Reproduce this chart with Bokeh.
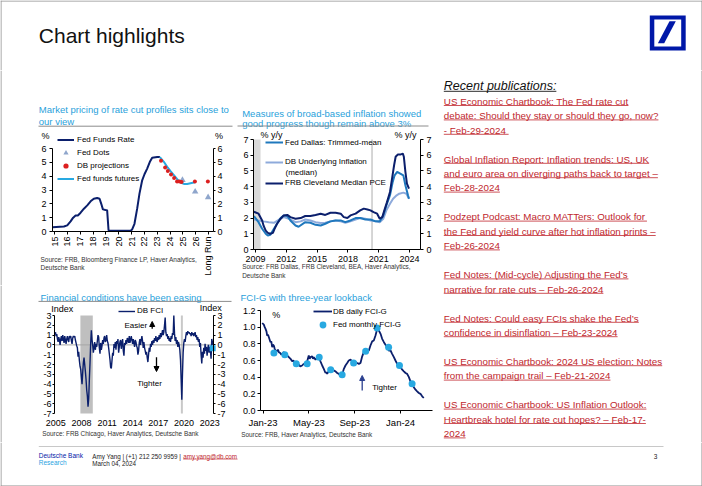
import math
import numpy as np
from bokeh.plotting import figure
from bokeh.models import (Range1d, LinearAxis, FixedTicker, Legend, LegendItem, BoxAnnotation, Arrow,
                          NormalHead, PrintfTickFormatter, NumeralTickFormatter)
from bokeh.layouts import row, column
from bokeh.core.properties import value
from bokeh.embed import file_html
from bokeh.resources import INLINE

# ---------------- DATA ----------------
# Chart 1: Fed funds (x = year label position, "15" = 2015 ... 27 = Long Run)
c1_ticks = [15, 16, 17, 18, 19, 20, 21, 22, 23, 24, 25, 26, 27]
c1_tick_labels = ["15", "16", "17", "18", "19", "20", "21", "22", "23", "24", "25", "26", "Long Run"]
ffr_x = [14.84, 15.73, 15.99, 16.25, 16.45, 16.64, 16.82, 17.03, 17.29, 17.55, 17.81, 18.06, 18.32, 18.51,
         18.64, 18.77, 18.97, 19.1, 19.21, 19.62, 20.92, 21.05, 21.23, 21.44, 21.62, 21.83, 22.01, 22.22,
         22.43, 22.61, 23.0, 23.21]
ffr_y = [0.31, 0.36, 0.44, 0.73, 1.0, 1.16, 1.16, 1.36, 1.65, 1.89, 2.18, 2.37, 2.42, 2.37, 2.0, 1.6, 1.55,
         1.53, 0.07, 0.05, 0.05, 0.15, 0.56, 1.65, 2.74, 3.7, 4.14, 4.55, 5.04, 5.33, 5.38, 5.38]
fut_x = [23.21, 23.52, 23.78, 24.04, 24.3, 24.56, 24.82, 25.08, 25.34, 25.6, 25.86, 25.99]
fut_y = [5.38, 5.04, 4.67, 4.36, 4.07, 3.78, 3.54, 3.44, 3.44, 3.49, 3.54, 3.58]
dbp_x = [23.3, 23.62, 23.83, 24.08, 24.32, 24.55, 24.74, 24.9, 25.94, 26.95]
dbp_y = [5.12, 4.62, 4.37, 4.12, 3.87, 3.62, 3.62, 3.58, 3.62, 3.62]
dots_x = [24.97, 25.96, 26.97]
dots_y = [3.72, 2.88, 2.47]

# Chart 2: broad-based inflation, % y/y
c2_ticks = [2009, 2012, 2015, 2018, 2021, 2024]
clev_x = [2008.85, 2009.3, 2009.65, 2009.8, 2010.0, 2010.2, 2010.45, 2010.7, 2010.85, 2011.1, 2011.45,
          2011.75, 2012.1, 2012.4, 2012.9, 2013.4, 2013.85, 2014.35, 2014.85, 2015.35, 2015.8, 2016.3,
          2016.8, 2017.3, 2017.6, 2017.95, 2018.25, 2018.75, 2019.2, 2019.55, 2019.9, 2020.2, 2020.5,
          2020.85, 2021.1, 2021.35, 2021.55, 2021.8, 2022.1, 2022.3, 2022.5, 2022.65, 2022.85, 2023.1,
          2023.35, 2023.45, 2023.6, 2023.75, 2023.95]
clev_y = [2.4, 2.28, 1.85, 1.5, 1.2, 1.06, 1.0, 1.06, 1.3, 1.64, 1.96, 2.17, 2.2, 2.06, 1.96, 2.0, 2.13,
          2.13, 2.2, 2.28, 2.2, 2.34, 2.34, 2.28, 2.06, 2.0, 2.17, 2.28, 2.49, 2.6, 2.55, 2.49, 2.38, 2.28,
          1.96, 2.06, 2.49, 3.0, 3.66, 4.51, 5.36, 5.9, 6.04, 6.04, 6.1, 5.9, 4.94, 4.19, 3.87]
dal_x = [2008.85, 2009.3, 2009.65, 2010.0, 2010.2, 2010.45, 2010.8, 2011.1, 2011.45, 2011.75, 2012.1,
         2012.4, 2012.9, 2013.2, 2013.85, 2014.35, 2014.85, 2015.35, 2015.8, 2016.3, 2016.8, 2017.3,
         2017.75, 2018.25, 2018.75, 2019.2, 2019.7, 2020.2, 2020.7, 2021.1, 2021.45, 2021.75, 2022.1,
         2022.35, 2022.55, 2022.8, 2023.1, 2023.4, 2023.6, 2023.85, 2023.95]
dal_y = [2.13, 1.74, 1.32, 1.0, 0.89, 0.94, 1.32, 1.64, 2.0, 2.17, 2.13, 1.85, 1.53, 1.45, 1.74, 1.7, 1.57,
         1.53, 1.64, 1.79, 1.85, 1.85, 1.74, 1.85, 2.0, 2.0, 1.91, 1.91, 1.79, 1.79, 2.17, 2.81, 3.45, 4.26,
         4.72, 4.94, 4.83, 4.72, 4.09, 3.45, 3.23]
dbu_x = [2008.85, 2009.3, 2009.8, 2010.3, 2010.8, 2011.3, 2011.75, 2012.25, 2012.9, 2013.4, 2013.85,
         2014.35, 2014.85, 2015.35, 2015.8, 2016.3, 2016.8, 2017.3, 2017.75, 2018.25, 2018.75, 2019.2,
         2019.7, 2020.2, 2020.7, 2021.1, 2021.45, 2021.75, 2022.1, 2022.4, 2022.75, 2023.0, 2023.4,
         2023.7, 2023.95]
dbu_y = [1.91, 1.85, 1.79, 1.74, 1.7, 1.91, 2.06, 1.96, 1.74, 1.79, 1.91, 1.85, 1.74, 1.68, 1.7, 1.79,
         1.85, 1.79, 1.7, 1.79, 1.91, 2.0, 1.96, 1.85, 1.79, 1.74, 1.96, 2.49, 2.91, 3.23, 3.45, 3.55,
         3.62, 3.55, 3.23]
c2_rec_start, c2_rec_end = [2008.81], [2009.5]
c2_covid = [2020.35]

# Chart 3: DB FCI (index), evenly spaced readings from 2005 to the end of the axis
c3_ticks = [2005, 2008, 2011, 2014, 2017, 2020, 2023]
fci = [1.3, 0.9, 1.1, 0.6, 0.3, 0.8, 0.5, 0.0, 0.6, 0.9, 0.4, 1.0, 0.6, 0.2, 0.9, 0.5, 0.1, 0.6, 0.9, 0.5,
       0.3, 0.9, 0.7, 0.9, 0.4, 0.1, 0.7, 0.9, 0.8, 0.9, 0.5, 0.2, -0.1,
       -0.3, -1.2, -0.7, -1.6, -2.2, -2.5, -3.3, -4.0, -2.8, -1.8, -1.3, -2.0, -2.7, -3.5, -4.6, -5.2,
       -6.3, -5.5, -3.5, -1.8, 0.2, 1.5, 0.5, 0.0,
       -0.8, -0.3, 0.3, -0.5, 0.1, -0.2, 0.4, 1.0, 0.8, -0.3, -0.9, 0.2, -0.5, -0.1, 0.5, 0.1, 0.7, 0.9,
       0.3, 0.5, 1.0, 0.4, 0.2, -0.3, -0.9, -1.5, -2.3, -2.4, -1.6, -0.8, -1.1, 0.1, -0.3, 0.3, -0.5,
       0.4, 0.1, 0.6, -0.8, -0.2, 0.3, 0.5, -0.4, 0.2, 0.6, -0.6, -1.1, 0.2, 0.0, 0.5, 0.1, 0.7, 0.6,
       0.2, 0.9, 0.2, 0.5, 0.9, 0.5, 0.1, 0.6, 0.2, -0.2, 0.5, 0.3, -0.1, -0.3, -1.0, -0.6, 0.2, 0.6,
       0.0, 0.5, 0.9, 0.4, -0.3,
       0.3, -0.3, -0.6, -1.0, -0.7, -1.3, -1.75, -1.0, -0.3, -0.7, 0.1, -0.2, 0.4, 0.0, 0.5, 0.2, 0.7,
       0.4, 0.9, 0.5, 0.3, 0.8, 0.5, 1.0, 0.6, 1.2, 0.8, 1.1, 1.5, 1.0, 1.3, 2.0, 2.8, 1.3, 0.9, 1.1,
       0.6, 0.9, 0.4, 0.7, 0.3, 0.9, 0.6, 1.2, 1.0, 3.0, 1.2, 0.4, 0.8, 0.1, 0.5, -0.2, 0.3, 0.0, -0.5,
       -1.5, -3.5, -5.6, -3.0, -0.8, 0.2, 0.6, 0.3, 0.9, 1.3, 1.0, 1.4, 1.2, 1.3, 1.1, 1.2, 0.9, 1.3,
       1.0, 1.2, 0.9, 1.1, 1.3, 0.8, 1.0, 0.5, 0.8, 0.3, 0.6, -0.2, 0.2, -1.0, -1.9, -0.7, -1.3, -0.3,
       -0.9, 0.1, -0.6, -0.2, -1.1, -0.4, 0.0, -0.8, -0.2, -0.6, -1.4, 0.6, 0.3, 0.0]
fci_start, fci_end = 2004.96, 2023.4
fci_latest_x, fci_latest_y = [2023.35], [-0.35]
c3_rec_start, c3_rec_end = [2007.88], [2009.33]
c3_covid = [2019.75]

# Chart 4: FCI-G (x = months since Jan-23)
c4_ticks = [0, 4, 8, 12]
c4_tick_labels = ["Jan-23", "May-23", "Sep-23", "Jan-24"]
fcig_x = [-0.07, 0.07, 0.15, 0.22, 0.3, 0.36, 0.44, 0.51, 0.58, 0.65, 0.72, 0.8, 0.87, 0.94, 1.02, 1.09,
          1.2, 1.3, 1.38, 1.5, 1.6, 1.67, 1.8, 1.96, 2.1, 2.25, 2.4, 2.54, 2.65, 2.75, 2.83, 3.0, 3.12,
          3.25, 3.41, 3.55, 3.7, 3.85, 3.99, 4.07, 4.14, 4.29, 4.36, 4.43, 4.58, 4.72, 4.87, 5.01, 5.16,
          5.3, 5.45, 5.52, 5.59, 5.74, 5.88, 6.03, 6.18, 6.32, 6.47, 6.61, 6.76, 6.9, 7.05, 7.19, 7.34,
          7.48, 7.63, 7.78, 7.92, 8.07, 8.21, 8.36, 8.5, 8.65, 8.79, 8.94, 9.08, 9.23, 9.37, 9.52, 9.66,
          9.81, 9.96, 10.1, 10.25, 10.39, 10.54, 10.68, 10.83, 10.97, 11.12, 11.26, 11.41, 11.55, 11.7,
          11.85, 11.99, 12.14, 12.28, 12.43, 12.57, 12.72, 12.86, 13.01, 13.15, 13.3, 13.44, 13.59,
          13.73, 13.88, 14.02]
fcig_y = [1.05, 1.03, 1.0, 0.98, 0.95, 0.9, 0.91, 0.88, 0.85, 0.82, 0.83, 0.76, 0.79, 0.78, 0.74, 0.72,
          0.71, 0.73, 0.7, 0.69, 0.67, 0.68, 0.7, 0.68, 0.66, 0.64, 0.62, 0.59, 0.6, 0.57, 0.56, 0.56, 0.55,
          0.53, 0.54, 0.56, 0.55, 0.59, 0.66, 0.62, 0.64, 0.65, 0.62, 0.64, 0.61, 0.63, 0.64, 0.59, 0.54,
          0.5, 0.45, 0.46, 0.44, 0.47, 0.49, 0.5, 0.48, 0.47, 0.45, 0.44, 0.41, 0.43, 0.5, 0.54, 0.57,
          0.6, 0.61, 0.59, 0.57, 0.58, 0.57, 0.56, 0.57, 0.65, 0.7, 0.71, 0.72, 0.72, 0.78, 0.83, 0.84,
          0.9, 0.98, 0.96, 0.92, 0.86, 0.82, 0.79, 0.76, 0.72, 0.72, 0.68, 0.64, 0.6, 0.56, 0.54, 0.52,
          0.49, 0.47, 0.45, 0.44, 0.4, 0.35, 0.32, 0.28, 0.25, 0.23, 0.21, 0.2, 0.17, 0.15]
fedm_x = [0.95, 1.9, 2.9, 3.85, 4.9, 5.9, 6.9, 7.9, 8.95, 9.95, 10.95, 11.9, 13.0]
fedm_y = [0.69, 0.67, 0.56, 0.56, 0.64, 0.49, 0.43, 0.57, 0.71, 0.99, 0.76, 0.54, 0.32]

publications = [
    ["US Economic Chartbook: The Fed rate cut",
     "debate: Should they stay or should they go, now?",
     " - Feb-29-2024"],
    ["Global Inflation Report: Inflation trends: US, UK",
     "and euro area on diverging paths back to target –",
     "Feb-28-2024"],
    ["Podzept Podcast: Macro MATTers: Outlook for",
     "the Fed and yield curve after hot inflation prints –",
     "Feb-26-2024"],
    ["Fed Notes: (Mid-cycle) Adjusting the Fed’s",
     "narrative for rate cuts – Feb-26-2024"],
    ["Fed Notes: Could easy FCIs shake the Fed’s",
     "confidence in disinflation – Feb-23-2024"],
    ["US Economic Chartbook: 2024 US election: Notes",
     "from the campaign trail – Feb-21-2024"],
    ["US Economic Chartbook: US Inflation Outlook:",
     "Heartbreak hotel for rate cut hopes? – Feb-17-",
     "2024"],
]

# ---------------- STYLE ----------------
FONT = "Liberation Sans"
NAVY = "#0b1f6c"
CYAN = "#28a9e1"
DALLAS = "#1f78bd"
DBU = "#8eaadb"
TRI = "#8fa6cc"
RED = "#dc1f1f"
TITLE_BLUE = "#2a9fdb"
PUB_RED = "#c0262d"
DB_BLUE = "#0018a8"
BORDER = "#8f8f8f"

_upper = dict(zip("ABCDEFGHIJKLMNOPQRSTUVWXYZ",
                  [667, 667, 722, 722, 667, 611, 778, 722, 278, 500, 667, 556, 833, 722, 778, 667, 778,
                   722, 667, 611, 722, 667, 944, 667, 667, 611]))
_lower = dict(zip("abcdefghijklmnopqrstuvwxyz",
                  [556, 556, 500, 556, 556, 278, 556, 556, 222, 222, 500, 222, 833, 556, 556, 556, 556,
                   333, 500, 278, 556, 500, 722, 500, 500, 500]))
_other = {' ': 278, '!': 278, '%': 889, '(': 333, ')': 333, '+': 584, ',': 278, '-': 333, '.': 278,
          '/': 278, ':': 278, '?': 556, '@': 1015, '|': 260, '–': 556, '’': 222, "'": 191}


def tw(s, fs):
    tot = 0
    for ch in s:
        if ch.isdigit():
            tot += 556
        else:
            tot += _upper.get(ch, _lower.get(ch, _other.get(ch, 556)))
    return tot / 1000.0 * fs


def block(fx0, fy0, w, h, plot=None):
    """A figure whose frame is the whole canvas. 'px'/'py' ranges are page pixels.
    plot = (l, t, r, b, x0, x1, y0, y1): where the data box sits on the page."""
    fx1, fy1 = fx0 + w, fy0 + h
    if plot is None:
        xr, yr = (fx0, fx1), (fy1, fy0)
    else:
        l, t, r, b, x0, x1, y0, y1 = plot
        sx = (x1 - x0) / (r - l)
        sy = (y1 - y0) / (b - t)
        xr = (x0 - (l - fx0) * sx, x1 + (fx1 - r) * sx)
        yr = (y0 - (fy1 - b) * sy, y1 + (t - fy0) * sy)
    p = figure(width=w, height=h, x_range=Range1d(*xr), y_range=Range1d(*yr),
               output_backend="svg", toolbar_location=None, x_axis_type=None, y_axis_type=None,
               min_border_left=0, min_border_right=0, min_border_top=0, min_border_bottom=0,
               outline_line_color=None, background_fill_color="white", border_fill_color="white")
    p.extra_x_ranges = {"px": Range1d(fx0, fx1)}
    p.extra_y_ranges = {"py": Range1d(fy1, fy0)}
    return p


def txt(p, x, y, s, size, color="#000000", style="normal", align="left", baseline="middle"):
    p.text(x=[x], y=[y], text=[s], text_font=value(FONT), text_font_size=value(f"{size}px"),
           text_color=color, text_font_style=style, text_align=align, text_baseline=baseline,
           x_range_name="px", y_range_name="py")


def hline(p, x0, x1, y, color, width=1.0):
    p.segment(x0=[x0], y0=[y], x1=[x1], y1=[y], line_color=color, line_width=width,
              x_range_name="px", y_range_name="py")


def vline(p, x, y0, y1, color, width=1.0):
    p.segment(x0=[x], y0=[y0], x1=[x], y1=[y1], line_color=color, line_width=width,
              x_range_name="px", y_range_name="py")


def add_axis(p, side, loc, bounds, ticks, size=9, tick_out=3, standoff=2, line=True):
    ax = LinearAxis(fixed_location=loc, bounds=bounds, ticker=FixedTicker(ticks=ticks))
    ax.major_label_text_font = FONT
    ax.major_label_text_font_size = f"{size}px"
    ax.major_label_text_color = "#000000"
    ax.axis_line_color = "#000000" if line else None
    ax.major_tick_line_color = "#000000" if line else None
    ax.minor_tick_line_color = None
    ax.major_tick_in = 0
    ax.major_tick_out = tick_out
    ax.major_label_standoff = standoff
    p.add_layout(ax, side)
    return ax


def legend(p, items, loc, gw, gh, standoff, spacing=0):
    lg = Legend(items=items, location=loc, padding=0, margin=0, spacing=spacing,
                glyph_width=gw, glyph_height=gh, label_height=gh, label_standoff=standoff,
                label_text_font=FONT, label_text_font_size="8px", label_text_color="#000000",
                border_line_color=None, background_fill_alpha=0)
    p.add_layout(lg)


def arrow(p, x, y0, y1, color="#000000"):
    p.add_layout(Arrow(end=NormalHead(size=5, fill_color=color, line_color=color),
                       x_start=x, y_start=y0, x_end=x, y_end=y1, line_color=color, line_width=1.3,
                       x_range_name="px", y_range_name="py"))


# ---------------- HEADER (page y 0-70) ----------------
H = block(0, 0, 702, 70)
txt(H, 38.3, 35, "Chart highlights", 21, color="#111111", baseline="alphabetic")
H.quad(left=[649.3], right=[685.2], top=[15], bottom=[50], fill_color=DB_BLUE, line_color=None,
       x_range_name="px", y_range_name="py")
H.quad(left=[653.8], right=[680.7], top=[19], bottom=[46], fill_color="white", line_color=None,
       x_range_name="px", y_range_name="py")
H.patch(x=[657.4, 663.7, 675.3, 669.0], y=[42.7, 42.7, 20.7, 20.7], fill_color=DB_BLUE, line_color=None,
        x_range_name="px", y_range_name="py")
hline(H, 0, 702, 0.5, BORDER)
vline(H, 0.5, 0, 70, BORDER)
vline(H, 701.5, 0, 70, BORDER)

# ---------------- CHART 1 block (x 0-236, y 70-285) ----------------
B1 = block(0, 70, 236, 215, plot=(52, 148, 213, 231, 14.84, 27.39, 0, 6))
vline(B1, 0.5, 70, 285, BORDER)
txt(B1, 38.3, 109.2, "Market pricing of rate cut profiles sits close to", 9.5, TITLE_BLUE, baseline="alphabetic")
txt(B1, 38.3, 121.3, "our view", 9.5, TITLE_BLUE, baseline="alphabetic")
hline(B1, 38, 232, 125.7, "#8c8c8c")
add_axis(B1, "left", 14.84, (0, 6), [0, 1, 2, 3, 4, 5, 6], 9, 3, 3).formatter = PrintfTickFormatter(format="%d")
add_axis(B1, "right", 27.39, (0, 6), [0, 1, 2, 3, 4, 5, 6], 9, 2, 2).formatter = PrintfTickFormatter(format="%d")
xa = add_axis(B1, "below", 0, (14.84, 27.39), c1_ticks, 9, 3, 2)
xa.major_label_overrides = {t: s for t, s in zip(c1_ticks, c1_tick_labels)}
xa.major_label_orientation = math.pi / 2
r_ffr = B1.line(ffr_x, ffr_y, line_color=NAVY, line_width=2)
r_fut = B1.line(fut_x, fut_y, line_color=CYAN, line_width=2)
r_dots = B1.scatter(dots_x, dots_y, marker="triangle", size=6.5, fill_color=TRI, line_color=None)
r_dbp = B1.scatter(dbp_x, dbp_y, marker="circle", size=4, fill_color=RED, line_color=None)
legend(B1, [LegendItem(label="Fed Funds Rate", renderers=[r_ffr]),
            LegendItem(label="Fed Dots", renderers=[r_dots]),
            LegendItem(label="DB projections", renderers=[r_dbp]),
            LegendItem(label="Fed funds futures", renderers=[r_fut])],
       (57, 100.2), 17, 13, 3)
txt(B1, 45, 135, "%", 9, align="center")
txt(B1, 218.5, 135, "%", 9, align="center")
txt(B1, 40, 258.5, "Source: FRB, Bloomberg Finance LP, Haver Analytics,", 6.5, "#333333")
txt(B1, 40, 266.5, "Deutsche Bank", 6.5, "#333333")

# ---------------- CHART 2 block (x 236-436, y 70-285) ----------------
B2 = block(236, 70, 200, 215, plot=(253, 139, 420, 249, 2008.81, 2025.07, 0, 7))
txt(B2, 241.7, 112.5, "Measures of broad-based inflation showed", 9.5, TITLE_BLUE, baseline="alphabetic")
txt(B2, 241.7, 122.5, "good progress though remain above 3%", 9.5, TITLE_BLUE, baseline="alphabetic")
hline(B2, 237, 428, 125.5, "#8c8c8c")
for s, e in zip(c2_rec_start, c2_rec_end):
    B2.add_layout(BoxAnnotation(left=s, right=e, bottom=0, top=7, fill_color="#d9d9d9", fill_alpha=1,
                                line_color=None, level="underlay"))
B2.segment(x0=c2_covid, y0=[0] * len(c2_covid), x1=c2_covid, y1=[7] * len(c2_covid),
           line_color="#c8c8c8", line_width=1.5)
add_axis(B2, "left", 2008.81, (0, 7), list(range(8)), 9, 3, 2).formatter = PrintfTickFormatter(format="%d")
add_axis(B2, "right", 2025.07, (0, 7), list(range(8)), 9, 3, 3).formatter = PrintfTickFormatter(format="%d")
add_axis(B2, "below", 0, (2008.81, 2025.07), c2_ticks, 9, 3, 3).formatter = PrintfTickFormatter(format="%d")
r_dbu = B2.line(dbu_x, dbu_y, line_color=DBU, line_width=2)
r_dal = B2.line(dal_x, dal_y, line_color=DALLAS, line_width=2)
r_clev = B2.line(clev_x, clev_y, line_color=NAVY, line_width=2)
legend(B2, [LegendItem(label="Fed Dallas: Trimmed-mean", renderers=[r_dal])], (29, 137.7), 18, 10, 2)
legend(B2, [LegendItem(label="DB Underlying Inflation", renderers=[r_dbu])], (29, 118.3), 18, 10, 2)
legend(B2, [LegendItem(label="FRB Cleveland Median PCE", renderers=[r_clev])], (29, 97.3), 18, 10, 2)
txt(B2, 285, 171.7, "(median)", 8)
txt(B2, 271, 134, "% y/y", 9, align="center")
txt(B2, 405, 134, "% y/y", 9, align="center")
txt(B2, 241.7, 266.3, "Source: FRB Dallas, FRB Cleveland, BEA, Haver Analytics,", 6.4, "#333333")
txt(B2, 241.7, 274.5, "Deutsche Bank", 6.4, "#333333")

# ---------------- CHART 3 block (x 0-236, y 285-442) ----------------
B3 = block(0, 285, 236, 157, plot=(54, 315, 213, 413, 2004.85, 2023.45, -7, 3))
vline(B3, 0.5, 285, 442, BORDER)
txt(B3, 40, 296.5, "Financial conditions have been easing", 9.5, TITLE_BLUE, baseline="alphabetic")
hline(B3, 38, 231, 300.9, "#8c8c8c")
for s, e in zip(c3_rec_start, c3_rec_end):
    B3.add_layout(BoxAnnotation(left=s, right=e, bottom=-7, top=3, fill_color="#bfbfbf", fill_alpha=1,
                                line_color=None, level="underlay"))
B3.segment(x0=c3_covid, y0=[-7] * len(c3_covid), x1=c3_covid, y1=[3] * len(c3_covid),
           line_color="#c8c8c8", line_width=2)
B3.segment(x0=[2004.85], y0=[0], x1=[2023.45], y1=[0], line_color="#a6a6a6", line_width=1)
add_axis(B3, "left", 2004.85, (-7, 3), list(range(-7, 4)), 9, 2, 1).formatter = PrintfTickFormatter(format="%d")
add_axis(B3, "right", 2023.45, (-7, 3), list(range(-7, 4)), 9, 2, 2).formatter = PrintfTickFormatter(format="%d")
add_axis(B3, "below", -7, (2004.85, 2023.45), c3_ticks, 9, 0, 6, line=False).formatter = PrintfTickFormatter(format="%d")
fci_x = np.linspace(fci_start, fci_end, len(fci))
r_fci = B3.line(fci_x, fci, line_color=NAVY, line_width=1.4)
B3.scatter(fci_latest_x, fci_latest_y, marker="square", size=6, fill_color=CYAN, line_color=None)
legend(B3, [LegendItem(label="DB FCI", renderers=[r_fci])], (118, 126.3), 17, 10, 2)
txt(B3, 61.7, 308.3, "Index", 9, align="center")
txt(B3, 210.3, 307.5, "Index", 9, align="center")
txt(B3, 124, 325, "Easier", 8)
txt(B3, 136.7, 383.3, "Tighter", 8)
arrow(B3, 151.7, 328.3, 321)
arrow(B3, 156, 356.7, 371)
txt(B3, 41.7, 432.7, "Source: FRB Chicago, Haver Analytics, Deutsche Bank", 6.4, "#333333")

# ---------------- CHART 4 block (x 236-436, y 285-442) ----------------
B4 = block(236, 285, 200, 157, plot=(260, 310, 432, 410, -0.22, 14.78, 0, 1.2))
txt(B4, 240, 296.5, "FCI-G with three-year lookback", 9.5, TITLE_BLUE, baseline="alphabetic")
add_axis(B4, "left", -0.22, (0, 1.2), [0, 0.2, 0.4, 0.6, 0.8, 1.0, 1.2], 9, 3, 2).formatter = NumeralTickFormatter(format="0.0")
xa4 = add_axis(B4, "below", 0, (-0.22, 14.78), c4_ticks, 9.5, 3, 3)
xa4.major_label_overrides = {t: s for t, s in zip(c4_ticks, c4_tick_labels)}
r_fcig = B4.line(fcig_x, fcig_y, line_color=NAVY, line_width=1.8)
r_fedm = B4.scatter(fedm_x, fedm_y, marker="circle", size=7, fill_color=CYAN, line_color=None)
legend(B4, [LegendItem(label="DB daily FCI-G", renderers=[r_fcig])], (77, 126), 19, 10, 1)
legend(B4, [LegendItem(label="Fed monthly FCI-G", renderers=[r_fedm])], (77, 109.5), 19, 17, 1)
txt(B4, 275.7, 314.3, "%", 9, align="center")
txt(B4, 371.7, 386.7, "Tighter", 8)
arrow(B4, 361.7, 390, 375, "#2b3f8f")
txt(B4, 240.7, 433.7, "Source: FRB, Haver Analytics, Deutsche Bank", 6.4, "#333333")

# ---------------- PUBLICATIONS (x 436-702, y 70-442) ----------------
P = block(436, 70, 266, 372)
vline(P, 701.5, 70, 442, BORDER)
txt(P, 443.3, 85, "Recent publications:", 12.5, "#111111", style="italic")
hline(P, 443.3, 443.3 + tw("Recent publications:", 12.5), 90.8, "#111111", 0.9)
y = 100.7
for blk in publications:
    for line in blk:
        txt(P, 443.3, y, line, 9.8, PUB_RED)
        hline(P, 443.3, 443.3 + tw(line, 9.8), y + 4.3, PUB_RED, 0.8)
        y += 14.4
    y += 14.6

# ---------------- FOOTER (y 442-486) ----------------
F = block(0, 442, 702, 44)
hline(F, 38.3, 663, 446, "#c8c8c8")
txt(F, 38.3, 455, "Deutsche Bank", 6.5, DB_BLUE)
txt(F, 38.3, 461.7, "Research", 6.5, "#2aa3df")
prefix = "Amy Yang | (+1) 212 250 9959 | "
txt(F, 91.7, 455.7, prefix, 6.3, "#222222")
ex = 91.7 + tw(prefix, 6.3)
txt(F, ex, 455.7, "amy.yang@db.com", 6.3, PUB_RED)
hline(F, ex, ex + tw("amy.yang@db.com", 6.3), 458.6, PUB_RED, 0.6)
txt(F, 91.7, 462.7, "March 04, 2024", 6.3, "#222222")
txt(F, 655, 455.5, "3", 6.5, "#222222", align="center")
vline(F, 0.5, 442, 486, BORDER)
vline(F, 701.5, 442, 486, BORDER)
hline(F, 0, 702, 485.5, BORDER)

page = column(H, row(column(B1, B3), column(B2, B4), P), F)
open("out.html", "w").write(file_html(page, INLINE))
